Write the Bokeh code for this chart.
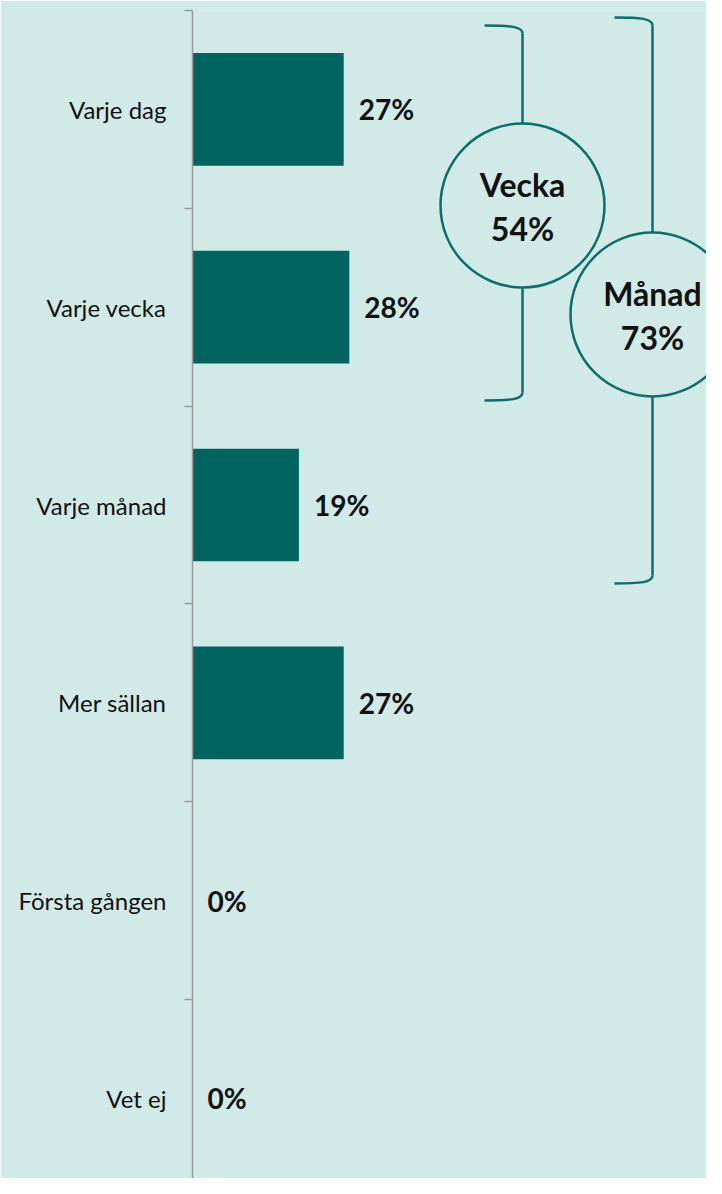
from bokeh.plotting import figure
from bokeh.models import Range1d, FixedTicker, ColumnDataSource
from bokeh.core.properties import value
from bokeh.embed import file_html
from bokeh.resources import INLINE

# ---- data ----
categories = ["Varje dag", "Varje vecka", "Varje månad", "Mer sällan", "Första gången", "Vet ej"]
shares = [27, 28, 19, 27, 0, 0]
share_labels = ["27%", "28%", "19%", "27%", "0%", "0%"]
group_names = ["Vecka", "Månad"]
group_totals = ["54%", "73%"]

# ---- style / layout ----
W, H = 706, 1178
PX_PER_PCT = 5.6
CAT_PX = 197.8
FRAME_LEFT = 192
FRAME_TOP = 10
BG = "#D2EAE7"
BAR = "#00635F"
LINE = "#0B6E6A"
AXIS = "#9A9A9A"
FONT = "Lato"

x_end = (W - FRAME_LEFT) / PX_PER_PCT
y_span = (H - FRAME_TOP) / CAT_PX
idx = list(range(len(categories)))

p = figure(width=W, height=H, x_range=Range1d(0, x_end),
           y_range=Range1d(-0.5 + y_span, -0.5),
           output_backend="svg", toolbar_location=None,
           x_axis_location=None,
           min_border_left=FRAME_LEFT, min_border_top=FRAME_TOP,
           min_border_right=0, min_border_bottom=0)
p.background_fill_color = BG
p.border_fill_color = BG
p.outline_line_color = None
p.xgrid.visible = False
p.ygrid.visible = False

ya = p.yaxis[0]
ya.ticker = FixedTicker(ticks=idx, minor_ticks=[i - 0.5 for i in range(len(categories) + 1)])
ya.major_label_overrides = {i: c for i, c in enumerate(categories)}
ya.major_tick_line_color = None
ya.major_tick_out = 0
ya.major_tick_in = 0
ya.minor_tick_line_color = AXIS
ya.minor_tick_line_width = 1.5
ya.minor_tick_out = 8
ya.minor_tick_in = 0
ya.axis_line_color = AXIS
ya.axis_line_width = 1.5
ya.major_label_standoff = 18
ya.major_label_text_font = FONT
ya.major_label_text_font_size = "24px"
ya.major_label_text_color = "#111111"

src = ColumnDataSource(dict(y=idx, v=shares, lab=share_labels))
p.hbar(y="y", left=0, right="v", height=0.57, source=src, fill_color=BAR, line_color=None)
p.text(x="v", y="y", text="lab", source=src, x_offset=15,
       text_align="left", text_baseline="middle",
       text_font=value(FONT), text_font_style="bold",
       text_font_size="28px", text_color="#111111")

# ---- group brackets with circles ----
def px_x(px):
    return px / PX_PER_PCT

def px_y(py):
    return -0.5 + (py - FRAME_TOP) / CAT_PX

br_x = [330, 460]          # px from axis
br_top = [25, 17]          # px from figure top
br_bot = [400, 583]
circ_y = [205, 314]
ARM = 38
R = 82

for k in range(len(group_names)):
    vx = px_x(br_x[k])
    x_arm = px_x(br_x[k] - ARM)
    yt, yb, yc = px_y(br_top[k]), px_y(br_bot[k]), px_y(circ_y[k])
    p.bezier(x0=[x_arm, x_arm], y0=[yt, yb],
             x1=[vx, vx], y1=[px_y(br_top[k] + 8), px_y(br_bot[k] - 8)],
             cx0=[px_x(br_x[k] - 12), px_x(br_x[k] - 12)], cy0=[yt, yb],
             cx1=[vx, vx], cy1=[px_y(br_top[k] + 1), px_y(br_bot[k] - 1)],
             line_color=LINE, line_width=2.5)
    p.segment(x0=[vx], y0=[px_y(br_top[k] + 8)], x1=[vx], y1=[px_y(br_bot[k] - 8)],
              line_color=LINE, line_width=2.5)
    p.scatter(x=[vx], y=[yc], size=2 * R, marker="circle",
              fill_color=BG, line_color=LINE, line_width=2.5)
    p.text(x=[vx], y=[yc], text=[group_names[k]], y_offset=-21,
           text_align="center", text_baseline="alphabetic",
           text_font=value(FONT), text_font_style="bold",
           text_font_size="32px", text_color="#111111")
    p.text(x=[vx], y=[yc], text=[group_totals[k]], y_offset=23,
           text_align="center", text_baseline="alphabetic",
           text_font=value(FONT), text_font_style="bold",
           text_font_size="32px", text_color="#111111")

open("out.html", "w").write(file_html(p, INLINE))
